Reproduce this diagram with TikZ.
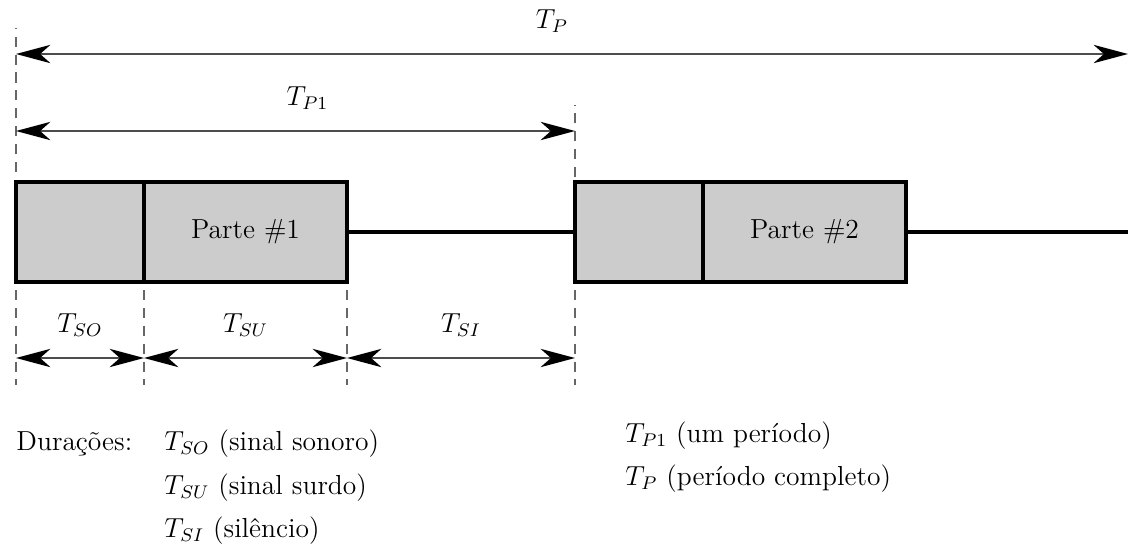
\documentclass[tikz,border=0pt]{standalone}
\usepackage{tikz}
\usetikzlibrary{positioning,arrows.meta}
\newcommand{\px}{0.436pt}

\begin{document}
\begin{tikzpicture}[
  x=\px, y=-\px,
  font=\fontsize{12}{14}\selectfont,
  part/.style={draw, line width=1.5pt, fill=black!20, inner sep=0pt,
               outer sep=0pt, minimum height=100*\px},
  sopart/.style={part, minimum width=128*\px},
  supart/.style={part, minimum width=203*\px},
  wire/.style={line width=1.5pt},
  guide/.style={draw=black!60, line width=0.5pt, dash pattern=on 4.4pt off 3.4pt},
  dim/.style={draw=black!70, line width=0.7pt,
              {Stealth[length=15pt, width=8pt, inset=4.5pt, color=black]}-{Stealth[length=15pt, width=8pt, inset=4.5pt, color=black]}},
  lbl/.style={midway, anchor=base, yshift=11pt},
  leg/.style={anchor=base west, inner sep=0pt}]

\useasboundingbox (0,0) rectangle (1128,550);

% the two parts of the signal
\node[sopart, anchor=north west] (so1) at (16,182) {};
\node[supart, anchor=west] (su1) at (so1.east) {Parte \#1};
\node[sopart, anchor=north west] (so2) at (575,182) {};
\node[supart, anchor=west] (su2) at (so2.east) {Parte \#2};
\coordinate (end) at (1128,232);
\draw[wire] (su1.east) -- (so2.west);
\draw[wire] (su2.east) -- (end);

% guides
\draw[guide] (so1.north west) ++(0,-10) -- ++(0,-144);
\draw[guide] (so2.north west) ++(0,-5) -- ++(0,-72);
\foreach \n in {so1.south west, su1.south west, su1.south east, so2.south west}
  \draw[guide] (\n) ++(0,8) -- ++(0,95);

% periods
\draw[dim] (so1.west |- 0,54) -- node[lbl, xshift=-20*\px] {$T_P$} (end |- 0,54);
\draw[dim] (so1.west |- 0,131) -- node[lbl, xshift=12*\px] {$T_{P1}$} (so2.west |- 0,131);

% durations
\draw[dim] (so1.west |- 0,358) -- node[lbl] {$T_{SO}$} (so1.east |- 0,358);
\draw[dim] (su1.west |- 0,358) -- node[lbl] {$T_{SU}$} (su1.east |- 0,358);
\draw[dim] (su1.east |- 0,358) -- node[lbl] {$T_{SI}$} (so2.west |- 0,358);

% legend
\node[leg] (dur) at (16,450) {Durações:};
\node[leg] (lso) at (164,450) {$T_{SO}$ (sinal sonoro)};
\node[leg] (lsu) at (164,494) {$T_{SU}$ (sinal surdo)};
\node[leg] (lsi) at (164,537) {$T_{SI}$ (silêncio)};
\node[leg] (lp1) at (625,442) {$T_{P1}$ (um período)};
\node[leg] (lp) at (625,485) {$T_P$ (período completo)};
\end{tikzpicture}
\end{document}
